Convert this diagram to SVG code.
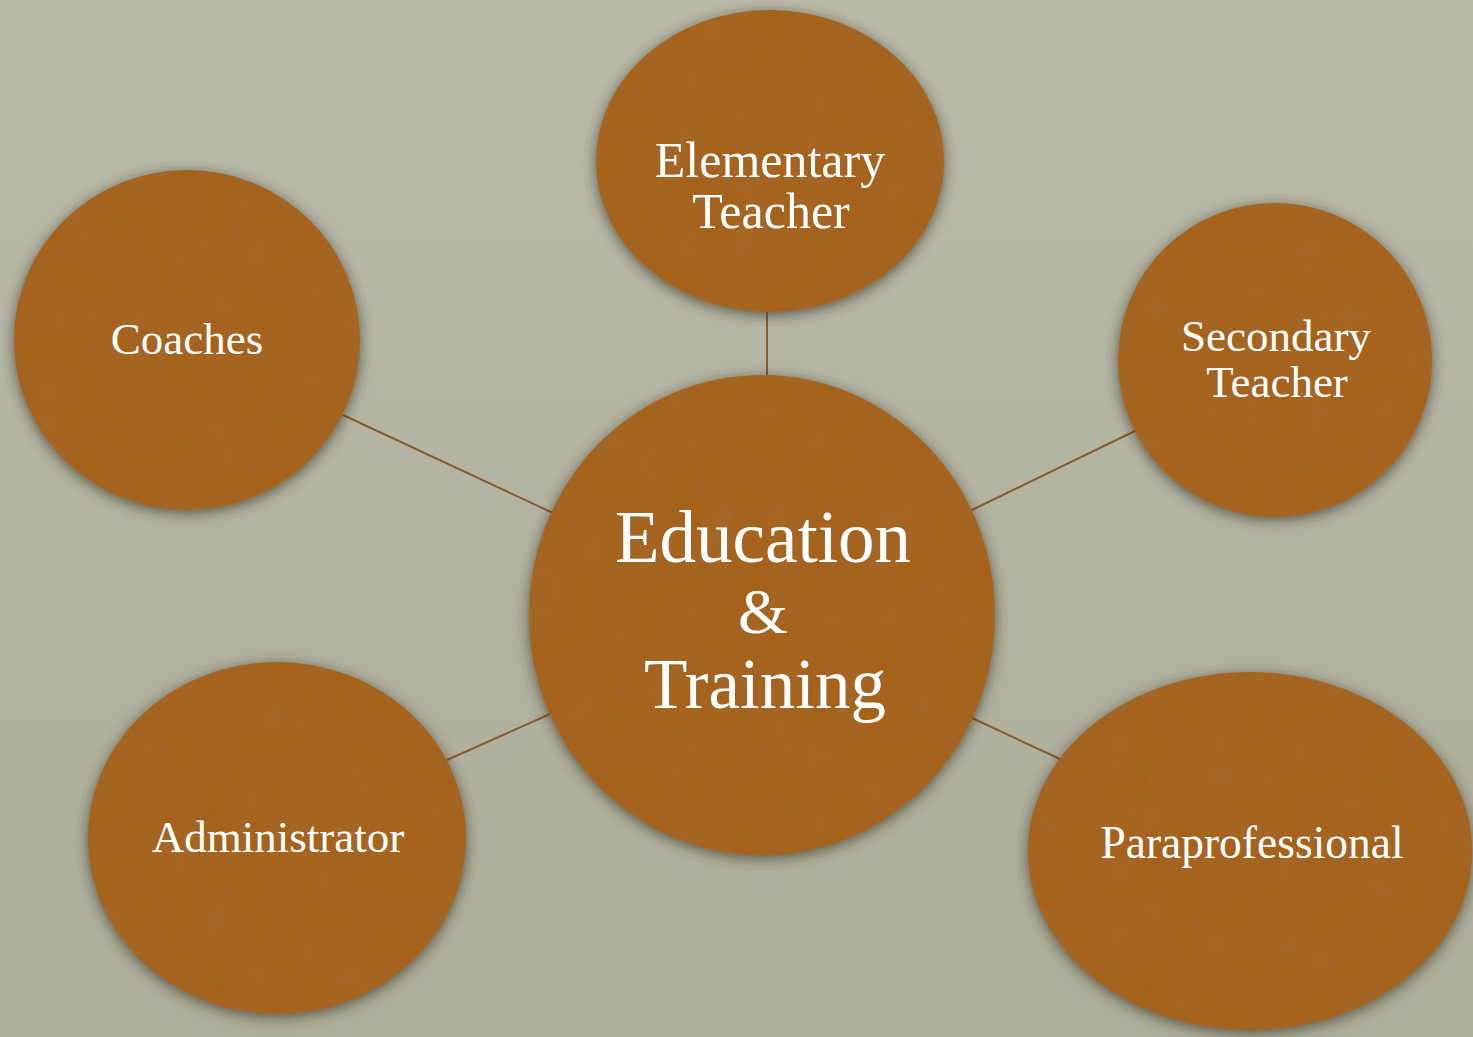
<svg xmlns="http://www.w3.org/2000/svg" width="1473" height="1037" viewBox="0 0 1473 1037">
<defs>
<linearGradient id="bg" x1="0" y1="0" x2="0" y2="1">
<stop offset="0" stop-color="#b9baaa"/>
<stop offset="1" stop-color="#adad9b"/>
</linearGradient>
<filter id="shadow" x="-20%" y="-20%" width="140%" height="140%">
<feGaussianBlur in="SourceAlpha" stdDeviation="7"/>
<feOffset dx="0" dy="3" result="b"/>
<feFlood flood-color="#3a3520" flood-opacity="0.75"/>
<feComposite in2="b" operator="in" result="s"/>
<feTurbulence type="fractalNoise" baseFrequency="0.03 0.03" numOctaves="3" seed="4" result="n"/>
<feColorMatrix in="n" type="matrix" values="0 0 0 0 0.4  0 0 0 0 0.22  0 0 0 0 0.06  0 0 0 0.22 0" result="nc"/>
<feComposite in="nc" in2="SourceGraphic" operator="in" result="tex"/>
<feMerge><feMergeNode in="s"/><feMergeNode in="SourceGraphic"/><feMergeNode in="tex"/></feMerge>
</filter>
<style>
.node{fill:#a5611d;filter:url(#shadow);}
.lbl{fill:#ffffff;font-family:"Liberation Serif","DejaVu Serif",serif;text-anchor:middle;}
.conn line{stroke:#8b5a2b;stroke-width:2;}
</style>
</defs>
<rect width="1473" height="1037" fill="url(#bg)"/>
<g class="conn" id="connectors">
<line x1="767" y1="312" x2="767" y2="377"/>
<line x1="343" y1="415" x2="553" y2="513"/>
<line x1="972" y1="510" x2="1137" y2="430"/>
<line x1="447" y1="760" x2="550" y2="714"/>
<line x1="972" y1="718" x2="1062" y2="760"/>
</g>
<g id="node-center">
<ellipse class="node" cx="762" cy="615" rx="233" ry="240"/>
<text class="lbl" x="763" y="562" font-size="73">Education</text>
<text class="lbl" x="763" y="633" font-size="64">&amp;</text>
<text class="lbl" x="765" y="708" font-size="71">Training</text>
</g>
<g id="node-elementary">
<ellipse class="node" cx="770" cy="161" rx="174" ry="151"/>
<text class="lbl" x="770" y="177" font-size="50">Elementary</text>
<text class="lbl" x="771" y="228" font-size="50">Teacher</text>
</g>
<g id="node-coaches">
<ellipse class="node" cx="187" cy="340" rx="173" ry="170"/>
<text class="lbl" x="187" y="354" font-size="45">Coaches</text>
</g>
<g id="node-secondary">
<ellipse class="node" cx="1275" cy="360" rx="157" ry="157"/>
<text class="lbl" x="1276" y="351" font-size="45">Secondary</text>
<text class="lbl" x="1277" y="397" font-size="45">Teacher</text>
</g>
<g id="node-administrator">
<ellipse class="node" cx="277" cy="838" rx="189" ry="176"/>
<text class="lbl" x="278" y="852" font-size="45">Administrator</text>
</g>
<g id="node-paraprofessional">
<ellipse class="node" cx="1250" cy="851" rx="222" ry="179"/>
<text class="lbl" x="1252" y="858" font-size="45.5">Paraprofessional</text>
</g>
</svg>
